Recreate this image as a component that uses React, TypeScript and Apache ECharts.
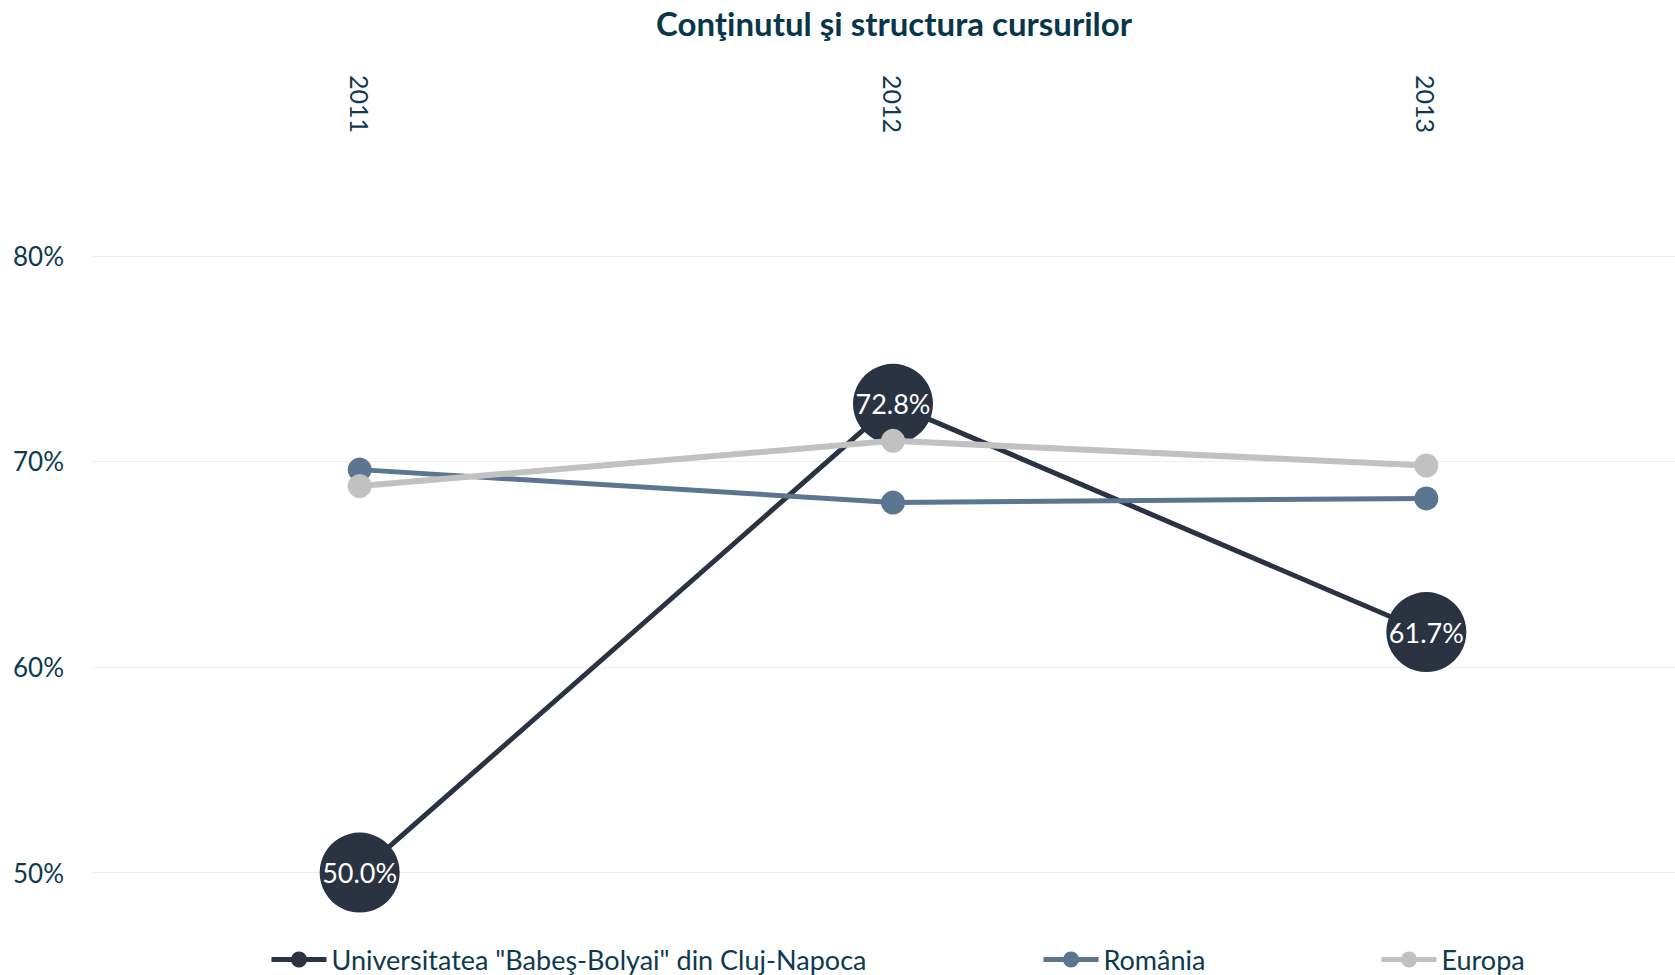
import React, { useEffect, useRef } from "react";
import * as echarts from "echarts";

const years = ["2011", "2012", "2013"];
const ubbValues = [50.0, 72.8, 61.7];
const romaniaValues = [69.6, 68.0, 68.2];
const europaValues = [68.8, 71.0, 69.8];
const seriesNames = ['Universitatea "Babeş-Bolyai" din Cluj-Napoca', "România", "Europa"];
const titleText = "Conţinutul şi structura cursurilor";

const FONT = "Lato";
const TEXT_COLOR = "#0d3a4f";
const C_UBB = "#2a3341";
const C_RO = "#5a7691";
const C_EU = "#c1c1c1";

export default function App() {
  const ref = useRef<HTMLDivElement>(null);
  useEffect(() => {
    if (!ref.current) return;
    const chart = echarts.init(ref.current, null, { renderer: "svg" });
    const legendBase = {
      top: 941,
      itemWidth: 55,
      itemHeight: 20,
      orient: "horizontal",
      textStyle: { fontFamily: FONT, fontSize: 27, color: TEXT_COLOR },
      lineStyle: { width: 5 },
      selectedMode: false,
    };
    chart.setOption({
      animation: false,
      backgroundColor: "#ffffff",
      title: {
        text: titleText,
        left: 889,
        textAlign: "center",
        top: 1,
        textStyle: { fontFamily: FONT, fontSize: 33, fontWeight: "bold", color: "#08374c" },
      },
      legend: [
        { ...legendBase, left: 264, data: [seriesNames[0]] },
        { ...legendBase, left: 1036, data: [seriesNames[1]] },
        { ...legendBase, left: 1374, data: [seriesNames[2]] },
      ],
      grid: {
        left: 93,
        right: -18,
        top: 153,
        bottom: 51,
        containLabel: false,
        outerBoundsMode: "none",
      },
      xAxis: {
        type: "category",
        position: "top",
        data: years,
        boundaryGap: true,
        axisLine: { show: false },
        axisTick: { show: false },
        splitLine: { show: false },
        axisLabel: {
          rotate: 90,
          margin: 20,
          fontFamily: FONT,
          fontSize: 25,
          color: TEXT_COLOR,
        },
      },
      yAxis: {
        type: "value",
        min: 47.5,
        max: 85,
        interval: 2.5,
        axisLine: { show: false },
        axisTick: { show: false },
        axisLabel: {
          margin: 29,
          fontFamily: FONT,
          fontSize: 26,
          color: TEXT_COLOR,
          formatter: (v: number) => (Math.abs(v % 10) < 1e-6 ? `${Math.round(v)}%` : ""),
        },
        splitLine: {
          show: true,
          lineStyle: {
            width: 1,
            color: ["rgba(0,0,0,0)", "#efefef", "rgba(0,0,0,0)", "rgba(0,0,0,0)"],
          },
        },
      },
      series: [
        {
          name: seriesNames[0],
          type: "line",
          data: ubbValues,
          symbol: "circle",
          symbolSize: 80,
          color: C_UBB,
          lineStyle: { width: 5, color: C_UBB },
          itemStyle: { color: C_UBB },
          label: {
            show: true,
            position: "inside",
            fontFamily: FONT,
            fontSize: 27,
            color: "#ffffff",
            formatter: (p: any) => `${Number(p.value).toFixed(1)}%`,
          },
          z: 2,
        },
        {
          name: seriesNames[1],
          type: "line",
          data: romaniaValues,
          symbol: "circle",
          symbolSize: 24,
          color: C_RO,
          lineStyle: { width: 5, color: C_RO },
          itemStyle: { color: C_RO },
          z: 3,
        },
        {
          name: seriesNames[2],
          type: "line",
          data: europaValues,
          symbol: "circle",
          symbolSize: 24,
          color: C_EU,
          lineStyle: { width: 6, color: C_EU },
          itemStyle: { color: C_EU },
          z: 4,
        },
      ],
    });
    return () => chart.dispose();
  }, []);
  return (
    <div
      ref={ref}
      style={{ position: "absolute", left: 0, top: 0, width: 1675, height: 975 }}
    />
  );
}
